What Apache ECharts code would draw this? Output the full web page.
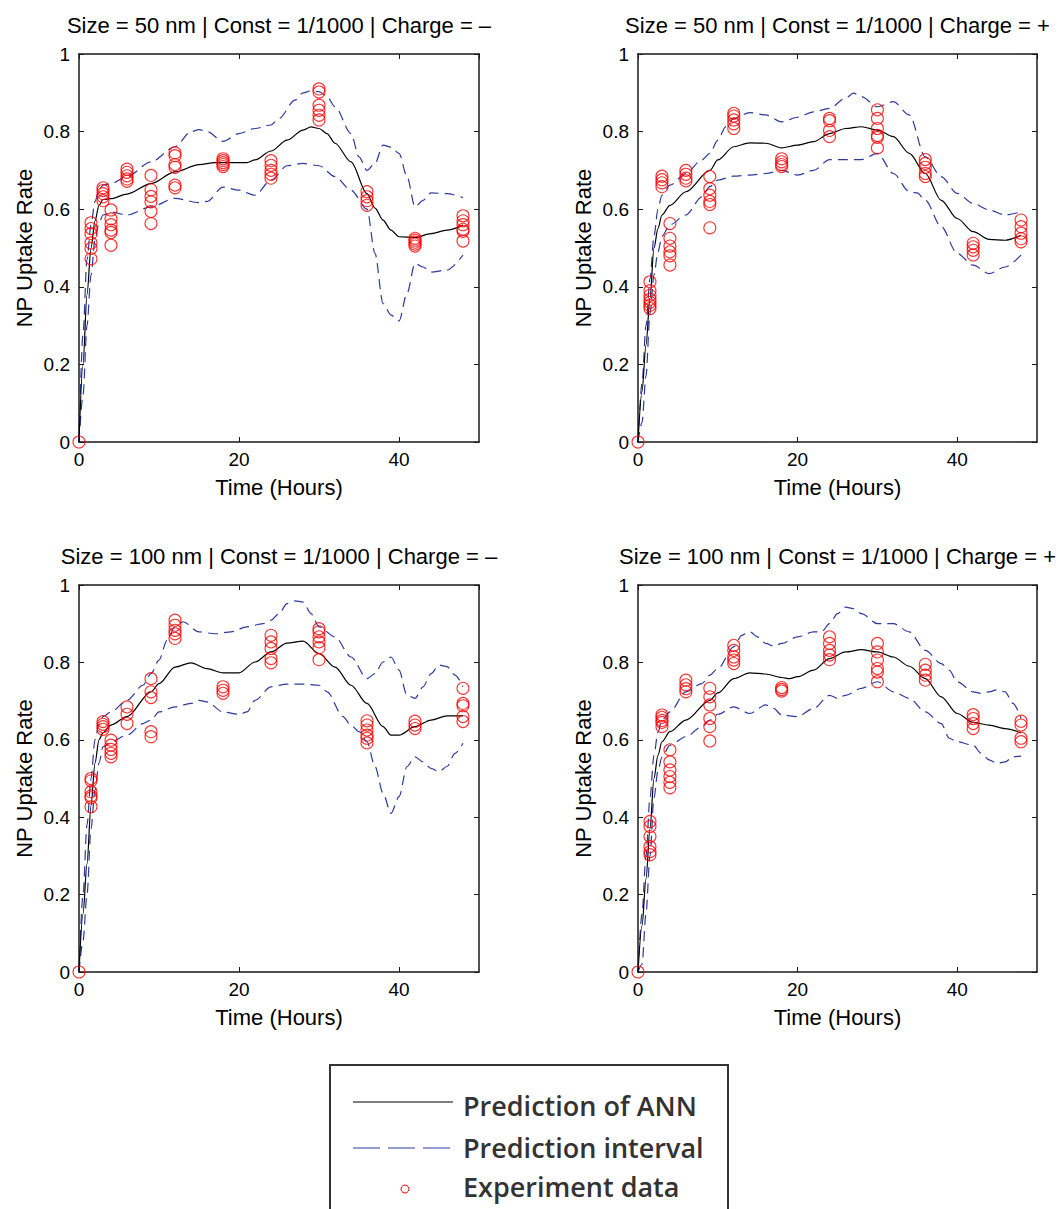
<!DOCTYPE html>
<html><head><meta charset="utf-8">
<script src="https://cdn.jsdelivr.net/npm/echarts@6/dist/echarts.min.js"></script>
<style>html,body{margin:0;padding:0;background:#fff}#c{width:1064px;height:1209px}</style>
</head><body><div id="c"></div>
<script>
// ---------- DATA ----------
const panelTitles = [
  'Size = 50 nm | Const = 1/1000 | Charge = \u2013',
  'Size = 50 nm | Const = 1/1000 | Charge = +',
  'Size = 100 nm | Const = 1/1000 | Charge = \u2013',
  'Size = 100 nm | Const = 1/1000 | Charge = +'
];
const xTitle = 'Time (Hours)';
const yTitle = 'NP Uptake Rate';
const legendNames = ['Prediction of ANN', 'Prediction interval', 'Experiment data'];

const expTimes = [0, 1.5, 3, 4, 6, 9, 12, 18, 24, 30, 36, 42, 48];

// replicate measurements at each of expTimes
const exp50neg = [
  [0],
  [0.565, 0.55, 0.537, 0.513, 0.499, 0.472],
  [0.655, 0.648, 0.64, 0.632, 0.622],
  [0.598, 0.575, 0.56, 0.546, 0.54, 0.507],
  [0.703, 0.695, 0.686, 0.678, 0.672],
  [0.687, 0.65, 0.633, 0.619, 0.594, 0.563],
  [0.745, 0.738, 0.715, 0.708, 0.662, 0.655],
  [0.73, 0.725, 0.72, 0.715, 0.71],
  [0.725, 0.713, 0.70, 0.69, 0.68],
  [0.91, 0.902, 0.868, 0.855, 0.842, 0.83],
  [0.645, 0.632, 0.622, 0.61],
  [0.525, 0.52, 0.515, 0.51, 0.505],
  [0.583, 0.57, 0.56, 0.548, 0.543, 0.518]
];
const exp50pos = [
  [0],
  [0.413, 0.39, 0.378, 0.368, 0.36, 0.352, 0.344],
  [0.685, 0.676, 0.668, 0.658],
  [0.563, 0.525, 0.505, 0.49, 0.48, 0.456],
  [0.70, 0.69, 0.68, 0.673],
  [0.684, 0.653, 0.636, 0.62, 0.612, 0.552],
  [0.847, 0.84, 0.83, 0.82, 0.808],
  [0.73, 0.722, 0.715, 0.71],
  [0.834, 0.828, 0.803, 0.787],
  [0.856, 0.834, 0.808, 0.79, 0.785, 0.758],
  [0.728, 0.718, 0.708, 0.692, 0.684],
  [0.512, 0.503, 0.494, 0.482],
  [0.572, 0.555, 0.538, 0.524, 0.516]
];
const exp100neg = [
  [0],
  [0.50, 0.494, 0.466, 0.455, 0.45, 0.427],
  [0.647, 0.64, 0.634, 0.627],
  [0.599, 0.586, 0.575, 0.565, 0.556],
  [0.685, 0.666, 0.642],
  [0.758, 0.724, 0.709, 0.621, 0.608],
  [0.909, 0.896, 0.883, 0.874, 0.862],
  [0.737, 0.728, 0.72],
  [0.87, 0.853, 0.836, 0.81, 0.799],
  [0.887, 0.879, 0.866, 0.853, 0.838, 0.807],
  [0.649, 0.638, 0.625, 0.612, 0.604, 0.592],
  [0.648, 0.638, 0.629],
  [0.733, 0.694, 0.688, 0.66, 0.647]
];
const exp100pos = [
  [0],
  [0.389, 0.376, 0.35, 0.324, 0.311, 0.303],
  [0.664, 0.658, 0.65, 0.645, 0.634],
  [0.574, 0.543, 0.522, 0.505, 0.49, 0.476],
  [0.754, 0.742, 0.732, 0.724],
  [0.733, 0.711, 0.69, 0.655, 0.634, 0.597],
  [0.844, 0.831, 0.814, 0.806, 0.797],
  [0.735, 0.73, 0.726],
  [0.866, 0.849, 0.831, 0.819, 0.807],
  [0.849, 0.827, 0.806, 0.784, 0.775, 0.75],
  [0.795, 0.78, 0.767, 0.754],
  [0.665, 0.655, 0.642, 0.629],
  [0.648, 0.638, 0.604, 0.595]
];

// ANN prediction curves: [time, value]
const mean50neg = [[0,0],[0.5,0.2],[1,0.38],[1.5,0.5],[2,0.57],[2.5,0.61],[3,0.625],[4,0.627],[6,0.639],[9,0.666],[12,0.696],[15,0.715],[17,0.72],[19,0.72],[21,0.72],[22,0.727],[24,0.75],[26,0.778],[28,0.804],[29,0.812],[30,0.808],[31,0.795],[32,0.77],[34,0.722],[36,0.64],[37,0.603],[38,0.572],[39,0.546],[40,0.529],[42,0.527],[44,0.537],[46,0.546],[48,0.559]];
const upper50neg = [[0,0],[0.5,0.28],[1,0.47],[1.5,0.56],[2,0.62],[2.5,0.65],[3,0.662],[4,0.666],[6,0.684],[9,0.722],[12,0.761],[14,0.8],[15,0.805],[16,0.8],[18,0.775],[20,0.795],[22,0.808],[24,0.817],[25,0.834],[27,0.881],[28,0.9],[29,0.905],[30,0.903],[31,0.89],[32,0.864],[34,0.795],[35,0.735],[36,0.70],[37,0.718],[38,0.765],[39,0.76],[40,0.744],[41,0.684],[42,0.606],[43,0.623],[44,0.642],[46,0.64],[48,0.63]];
const lower50neg = [[0,0],[0.5,0.12],[1,0.3],[1.5,0.43],[2,0.52],[2.5,0.565],[3,0.585],[4,0.593],[6,0.585],[9,0.606],[12,0.628],[15,0.617],[16,0.62],[18,0.657],[20,0.649],[22,0.636],[24,0.675],[26,0.712],[28,0.718],[30,0.712],[32,0.684],[34,0.649],[36,0.6],[37,0.486],[38,0.357],[39,0.327],[40,0.312],[41,0.383],[42,0.46],[43,0.451],[44,0.438],[46,0.443],[48,0.482]];

const mean50pos = [[0,0],[0.5,0.13],[1,0.25],[1.5,0.37],[2,0.5],[2.5,0.55],[3,0.585],[4,0.61],[6,0.645],[9,0.70],[10,0.727],[12,0.761],[14,0.771],[16,0.77],[18,0.758],[20,0.765],[22,0.774],[24,0.795],[26,0.808],[28,0.8125],[30,0.804],[32,0.787],[34,0.744],[36,0.692],[38,0.623],[40,0.576],[42,0.542],[44,0.522],[46,0.52],[48,0.533]];
const upper50pos = [[0,0],[0.5,0.15],[1,0.3],[1.5,0.42],[2,0.53],[2.5,0.6],[3,0.636],[4,0.662],[6,0.692],[8,0.727],[9,0.744],[10,0.778],[11,0.813],[12,0.834],[14,0.849],[16,0.843],[18,0.825],[20,0.837],[22,0.851],[24,0.86],[26,0.886],[27,0.899],[28,0.89],[30,0.864],[32,0.877],[34,0.843],[36,0.735],[38,0.684],[40,0.641],[42,0.615],[44,0.598],[46,0.585],[48,0.593]];
const lower50pos = [[0,0],[0.5,0.05],[1,0.17],[1.5,0.33],[2,0.43],[2.5,0.49],[3,0.53],[4,0.56],[6,0.585],[8,0.632],[9,0.658],[10,0.675],[12,0.685],[14,0.688],[16,0.692],[18,0.70],[20,0.688],[22,0.70],[24,0.728],[26,0.728],[28,0.728],[30,0.744],[32,0.692],[34,0.645],[35,0.642],[36,0.623],[38,0.555],[40,0.486],[42,0.456],[44,0.434],[46,0.451],[48,0.482]];

const mean100neg = [[0,0],[0.5,0.15],[1,0.28],[1.5,0.43],[2,0.54],[2.5,0.6],[3,0.618],[4,0.638],[6,0.66],[9,0.724],[10,0.745],[12,0.788],[14,0.799],[16,0.784],[18,0.773],[20,0.773],[22,0.801],[24,0.827],[26,0.85],[28,0.855],[30,0.823],[32,0.788],[34,0.741],[36,0.694],[38,0.634],[39,0.612],[40,0.612],[42,0.634],[44,0.651],[46,0.662],[48,0.662]];
const upper100neg = [[0,0],[0.5,0.2],[1,0.38],[1.5,0.5],[2,0.6],[2.5,0.64],[3,0.66],[4,0.672],[6,0.702],[8,0.741],[9,0.771],[10,0.806],[11,0.857],[12,0.892],[13,0.905],[15,0.879],[17,0.874],[19,0.879],[21,0.892],[23,0.90],[24,0.909],[25,0.926],[26,0.952],[27,0.959],[28,0.956],[29,0.926],[30,0.892],[32,0.866],[34,0.814],[36,0.758],[37,0.771],[38,0.801],[39,0.814],[40,0.78],[41,0.715],[42,0.707],[43,0.737],[44,0.771],[45,0.793],[46,0.789],[47,0.767],[48,0.737]];
const lower100neg = [[0,0],[0.5,0.08],[1,0.2],[1.5,0.37],[2,0.47],[2.5,0.54],[3,0.582],[4,0.595],[6,0.612],[8,0.642],[9,0.651],[10,0.672],[12,0.685],[14,0.694],[15,0.702],[16,0.698],[18,0.672],[20,0.666],[21,0.672],[22,0.702],[24,0.737],[26,0.744],[28,0.744],[30,0.741],[31,0.724],[33,0.66],[34,0.638],[35,0.621],[36,0.595],[37,0.531],[38,0.462],[39,0.41],[40,0.453],[41,0.531],[42,0.556],[43,0.543],[44,0.526],[45,0.518],[46,0.531],[47,0.565],[48,0.591]];

const mean100pos = [[0,0],[0.5,0.12],[1,0.24],[1.5,0.37],[2,0.5],[2.5,0.56],[3,0.595],[4,0.621],[6,0.651],[9,0.702],[10,0.721],[12,0.758],[14,0.773],[16,0.77],[18,0.761],[19,0.758],[20,0.763],[22,0.78],[24,0.81],[26,0.827],[28,0.833],[30,0.827],[32,0.814],[34,0.79],[36,0.758],[38,0.711],[40,0.668],[42,0.645],[44,0.638],[46,0.629],[48,0.618]];
const upper100pos = [[0,0],[0.5,0.15],[1,0.3],[1.5,0.45],[2,0.56],[2.5,0.62],[3,0.651],[4,0.672],[6,0.724],[8,0.745],[9,0.767],[10,0.784],[12,0.84],[13,0.87],[14,0.879],[15,0.866],[16,0.849],[17,0.842],[18,0.849],[20,0.866],[22,0.879],[23,0.879],[24,0.90],[25,0.926],[26,0.943],[27,0.939],[28,0.926],[30,0.90],[31,0.90],[32,0.90],[34,0.879],[36,0.831],[38,0.797],[39,0.78],[40,0.75],[42,0.724],[43,0.72],[44,0.724],[45,0.729],[46,0.724],[47,0.694],[48,0.655]];
const lower100pos = [[0,0],[0.5,0.02],[1,0.15],[1.5,0.3],[2,0.45],[2.5,0.52],[3,0.555],[4,0.586],[6,0.608],[8,0.634],[9,0.651],[10,0.666],[12,0.685],[14,0.668],[16,0.69],[17,0.681],[18,0.664],[20,0.66],[22,0.681],[24,0.715],[25,0.707],[26,0.715],[28,0.733],[30,0.75],[32,0.724],[34,0.707],[36,0.672],[38,0.642],[39,0.604],[40,0.595],[42,0.586],[43,0.565],[44,0.548],[45,0.539],[46,0.543],[47,0.556],[48,0.558]];

const xTicks = { min: 0, max: 50, interval: 20 };
const yTicks = { min: 0, max: 1, interval: 0.2 };

// ---------- LAYOUT / STYLE ----------
const panels = [
  { exp: exp50neg,  mean: mean50neg,  upper: upper50neg,  lower: lower50neg },
  { exp: exp50pos,  mean: mean50pos,  upper: upper50pos,  lower: lower50pos },
  { exp: exp100neg, mean: mean100neg, upper: upper100neg, lower: lower100neg },
  { exp: exp100pos, mean: mean100pos, upper: upper100pos, lower: lower100pos }
];
const gridBoxes = [
  { left: 79,  top: 54,  width: 400, height: 388 },
  { left: 638, top: 54,  width: 399, height: 388 },
  { left: 79,  top: 585, width: 400, height: 387 },
  { left: 638, top: 585, width: 399, height: 387 }
];
const AX = '#1a1a1a';
const BLUE = '#2c3aa0';
const RED = '#ff0000';
const FONT = '"Liberation Sans", Arial, Helvetica, sans-serif';
const LFONT = '"Open Sans", "Noto Sans", sans-serif';

const grid = [], xAxis = [], yAxis = [], series = [], title = [];
gridBoxes.forEach((g, i) => {
  grid.push(Object.assign({ containLabel: false }, g));
  title.push({
    text: panelTitles[i], left: g.left + g.width / 2, top: g.top - 40, textAlign: 'center', padding: 0,
    textStyle: { fontFamily: FONT, fontSize: 22, fontWeight: 'normal', color: '#000' }
  });
  const lineStyle = { color: AX, width: 1.5 };
  const tick = { show: true, inside: true, length: 5, lineStyle: { color: AX, width: 1 } };
  xAxis.push({
    type: 'value', gridIndex: i, position: 'bottom', min: xTicks.min, max: xTicks.max, interval: xTicks.interval,
    axisLine: { show: true, onZero: false, lineStyle }, axisTick: tick, splitLine: { show: false },
    axisLabel: { show: true, showMaxLabel: false, margin: 8, fontFamily: FONT, fontSize: 19, color: '#000' },
    name: xTitle, nameLocation: 'middle', nameGap: 34,
    nameTextStyle: { fontFamily: FONT, fontSize: 22, color: '#000' }
  });
  xAxis.push({
    type: 'value', gridIndex: i, position: 'top', min: xTicks.min, max: xTicks.max, interval: xTicks.interval,
    axisLine: { show: true, onZero: false, lineStyle }, axisTick: tick, splitLine: { show: false },
    axisLabel: { show: false }
  });
  yAxis.push({
    type: 'value', gridIndex: i, position: 'left', min: yTicks.min, max: yTicks.max, interval: yTicks.interval,
    axisLine: { show: true, onZero: false, lineStyle }, axisTick: tick, splitLine: { show: false },
    axisLabel: { show: true, margin: 9, fontFamily: FONT, fontSize: 19, color: '#000' },
    name: yTitle, nameLocation: 'middle', nameGap: 44, nameRotate: 90,
    nameTextStyle: { fontFamily: FONT, fontSize: 22, color: '#000' }
  });
  yAxis.push({
    type: 'value', gridIndex: i, position: 'right', min: yTicks.min, max: yTicks.max, interval: yTicks.interval,
    axisLine: { show: true, onZero: false, lineStyle }, axisTick: tick, splitLine: { show: false },
    axisLabel: { show: false }
  });
  const p = panels[i];
  const common = { type: 'line', xAxisIndex: i * 2, yAxisIndex: i * 2, symbol: 'none', smooth: 0.3,
                   smoothMonotone: 'x', silent: true, animation: false };
  series.push(Object.assign({}, common, { name: legendNames[0], data: p.mean, z: 3,
    lineStyle: { color: '#000', width: 1.2 }, itemStyle: { color: '#000' } }));
  series.push(Object.assign({}, common, { name: legendNames[1], data: p.upper, z: 2,
    lineStyle: { color: BLUE, width: 1.2, type: [10, 6] }, itemStyle: { color: BLUE } }));
  series.push(Object.assign({}, common, { name: legendNames[1], data: p.lower, z: 2,
    lineStyle: { color: BLUE, width: 1.2, type: [10, 6] }, itemStyle: { color: BLUE } }));
  const pts = [];
  expTimes.forEach((t, k) => p.exp[k].forEach(v => pts.push([t, v])));
  series.push({
    type: 'scatter', name: legendNames[2], xAxisIndex: i * 2, yAxisIndex: i * 2, data: pts, z: 4,
    symbol: 'circle', symbolSize: 12, silent: true, animation: false,
    itemStyle: { color: 'rgba(0,0,0,0)', borderColor: RED, borderWidth: 1.1 }
  });
});

// legend box (drawn as graphic; bottom edge runs past the page like the reference)
const LX = 329, LY = 1064;
const graphic = [
  { type: 'rect', left: LX, top: LY, shape: { width: 398, height: 170 },
    style: { fill: '#fff', stroke: '#333', lineWidth: 2 }, z: 10 },
  { type: 'line', shape: { x1: 353, y1: 1102, x2: 453, y2: 1102 }, style: { stroke: '#000', lineWidth: 1.2 }, z: 11 },
  { type: 'line', shape: { x1: 353, y1: 1148, x2: 453, y2: 1148 }, style: { stroke: BLUE, lineWidth: 1.2, lineDash: [27, 8] }, z: 11 },
  { type: 'circle', shape: { cx: 405, cy: 1189, r: 4 }, style: { fill: 'none', stroke: RED, lineWidth: 1 }, z: 11 },
  { type: 'text', x: 463, y: 1105, style: { text: legendNames[0], font: '600 27px ' + LFONT, fill: '#333', verticalAlign: 'middle' }, z: 11 },
  { type: 'text', x: 463, y: 1147, style: { text: legendNames[1], font: '600 27px ' + LFONT, fill: '#333', verticalAlign: 'middle' }, z: 11 },
  { type: 'text', x: 463, y: 1186, style: { text: legendNames[2], font: '600 27px ' + LFONT, fill: '#333', verticalAlign: 'middle' }, z: 11 }
];

const chart = echarts.init(document.getElementById('c'), null, { renderer: 'svg' });
chart.setOption({
  animation: false,
  backgroundColor: '#fff',
  title, grid, xAxis, yAxis, series, graphic
});
</script>
</body></html>
